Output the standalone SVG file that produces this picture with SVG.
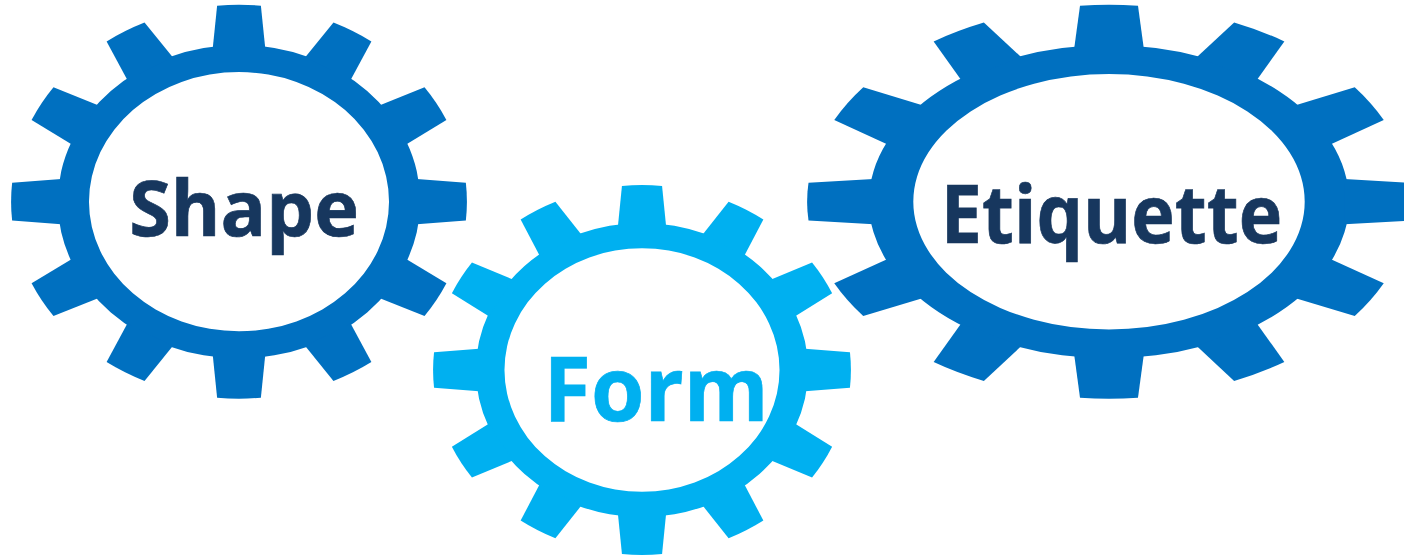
<svg xmlns="http://www.w3.org/2000/svg" width="1404" height="557" viewBox="0 0 1404 557">
<style>
.label{font-family:"Open Sans","Noto Sans","Liberation Sans",sans-serif;font-weight:700;text-anchor:middle;stroke-width:.7}
.dark{fill:#17375e;stroke:#17375e}
.blue{fill:#0070c0}
.sky{fill:#00b0f0}
.label.sky{stroke:#00b0f0}
</style>
<defs>
<path id="tooth" d="M-.115-.78L-.096-.995A1 1 0 0 1 .096-.995L.115-.78Z"/>
<g id="teeth">
<use href="#tooth"/>
<use href="#tooth" transform="rotate(30)"/>
<use href="#tooth" transform="rotate(60)"/>
<use href="#tooth" transform="rotate(90)"/>
<use href="#tooth" transform="rotate(120)"/>
<use href="#tooth" transform="rotate(150)"/>
<use href="#tooth" transform="rotate(180)"/>
<use href="#tooth" transform="rotate(210)"/>
<use href="#tooth" transform="rotate(240)"/>
<use href="#tooth" transform="rotate(270)"/>
<use href="#tooth" transform="rotate(300)"/>
<use href="#tooth" transform="rotate(330)"/>
</g>
<path id="ring" fill-rule="evenodd" d="M-.795 0A.795 .795 0 1 1 .795 0A.795 .795 0 1 1-.795 0ZM-.658 0A.658 .658 0 1 0 .658 0A.658 .658 0 1 0-.658 0Z"/>
<path id="ring-wide" fill-rule="evenodd" d="M-.795 0A.795 .795 0 1 1 .795 0A.795 .795 0 1 1-.795 0ZM-.648 0A.648 .648 0 1 0 .648 0A.648 .648 0 1 0-.648 0Z"/>
</defs>
<g id="node-shape">
<g class="blue" transform="translate(239 201.7) scale(228 197)"><use href="#ring"/><use href="#teeth"/></g>
<text class="label dark" transform="translate(244 236) scale(.97 1)" font-size="78">Shape</text>
</g>
<g id="node-etiquette">
<g class="blue" transform="translate(1109 201.7) scale(302 197)"><use href="#ring-wide"/><use href="#teeth"/></g>
<text class="label dark" transform="translate(1111.5 243) scale(.92 1)" font-size="80">Etiquette</text>
</g>
<g id="node-form">
<g class="sky" transform="translate(642 370) scale(209 185)"><use href="#ring"/><use href="#teeth"/></g>
<text class="label sky" transform="translate(656 421) scale(.96 1)" font-size="90">Form</text>
</g>
<g id="connectors"/>
</svg>
